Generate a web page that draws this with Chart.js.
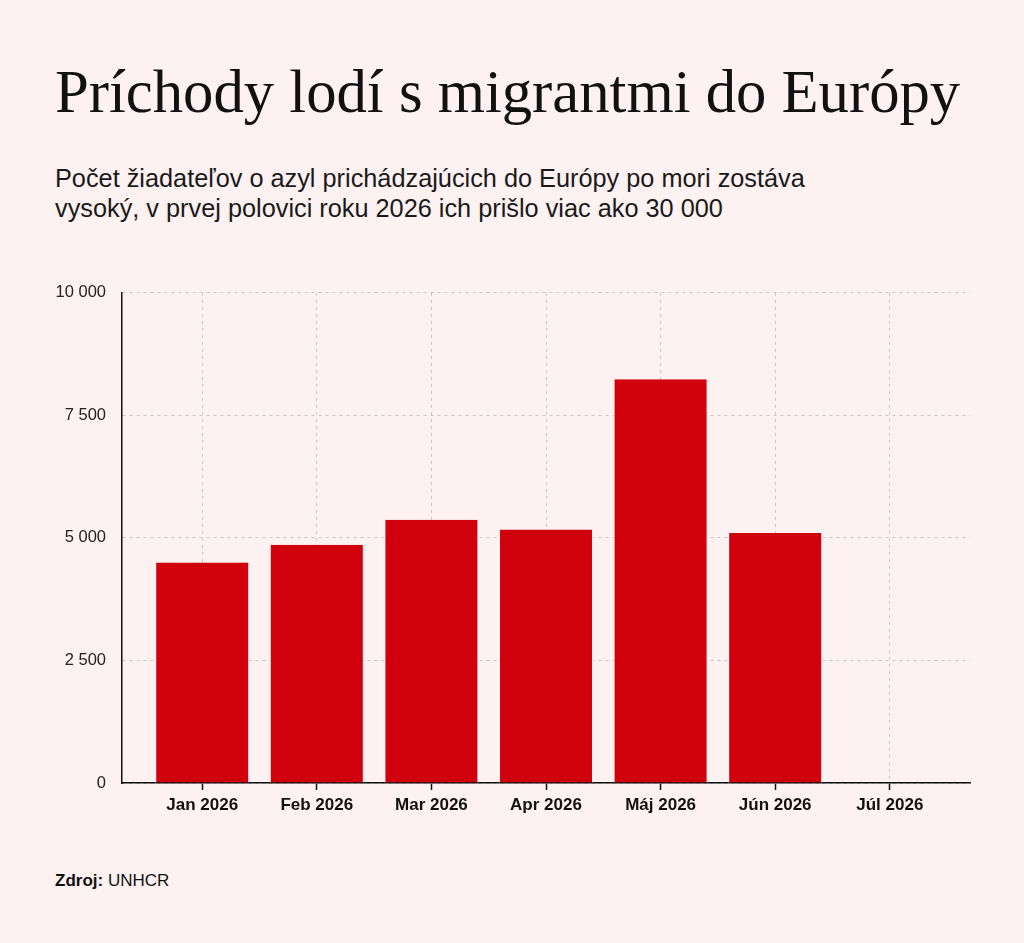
<!DOCTYPE html>
<html lang="sk">
<head>
<meta charset="utf-8">
<script src="https://cdn.jsdelivr.net/npm/chart.js@4.4.1/dist/chart.umd.min.js"></script>
<style>
  html, body { margin: 0; padding: 0; }
  body {
    width: 1024px; height: 943px; position: relative; overflow: hidden;
    background: #fdf1f1; color: #111;
    font-family: "Liberation Sans", Arial, Helvetica, sans-serif;
  }
  #title {
    position: absolute; left: 55px; top: 62px;
    font-family: "Liberation Serif", "Times New Roman", serif;
    font-size: 60.7px; line-height: 60px; white-space: nowrap;
  }
  #subtitle {
    position: absolute; left: 55px; top: 163px; width: 900px;
    font-size: 25.3px; line-height: 30px; color: #1a1a1a;
  }
  #source {
    position: absolute; left: 55px; top: 871px;
    font-size: 17px; line-height: 20px;
  }
  #wrap { position: absolute; left: 0; top: 267px; width: 1024px; height: 556px; }
</style>
</head>
<body>
<div id="title">Príchody lodí s migrantmi do Európy</div>
<div id="subtitle">Počet žiadateľov o azyl prichádzajúcich do Európy po mori zostáva<br>vysoký, v prvej polovici roku 2026 ich prišlo viac ako 30 000</div>
<div id="wrap"><canvas id="chart"></canvas></div>
<div id="source"><b>Zdroj:</b> UNHCR</div>

<script>
// data
const months = ['Jan 2026', 'Feb 2026', 'Mar 2026', 'Apr 2026', 'Máj 2026', 'Jún 2026', 'Júl 2026'];
const arrivals = [4500, 4860, 5370, 5170, 8240, 5100, null];
const yTicks = [0, 2500, 5000, 7500, 10000];

const BG = '#fdf1f1';
const RED = '#d0000d';
const GRID = '#c9c6c6';
const INK = '#111';

const fmt = v => String(v).replace(/\B(?=(\d{3})+(?!\d))/g, ' ');

const points = months.map((m, i) => ({ x: i, y: arrivals[i] }));

new Chart(document.getElementById('chart'), {
    type: 'bar',
    data: {
        datasets: [{
            data: points,
            backgroundColor: RED,
            borderColor: BG,
            borderWidth: { top: 0, left: 1, right: 1, bottom: 0 },
            borderSkipped: 'start',
            barPercentage: 0.82,
            categoryPercentage: 1
        }]
    },
    options: {
        responsive: true,
        maintainAspectRatio: false,
        animation: false,
        layout: { padding: { top: 20, right: 54, bottom: 0, left: 0 } },
        plugins: { legend: { display: false }, tooltip: { enabled: false } },
        scales: {
            x: {
                type: 'linear',
                min: -0.7,
                max: 6.7,
                offset: false,
                afterFit: (s) => { s.height = 40; },
                grid: {
                    offset: false,
                    color: GRID,
                    lineWidth: 1,
                    drawTicks: true,
                    tickLength: 7,
                    tickColor: INK,
                    tickWidth: 1.5
                },
                border: { display: true, color: INK, width: 1.5, dash: [3, 4] },
                ticks: {
                    stepSize: 1,
                    includeBounds: false,
                    autoSkip: false,
                    maxRotation: 0,
                    padding: 5,
                    color: INK,
                    font: { family: '"Liberation Sans", Arial, sans-serif', size: 17, weight: 'bold' },
                    callback: (v) => months[v] ?? ''
                }
            },
            y: {
                min: 0,
                max: 10000,
                afterFit: (s) => { s.width = 122; },
                afterBuildTicks: (s) => { s.ticks = yTicks.map(v => ({ value: v })); },
                grid: { color: GRID, lineWidth: 1, drawTicks: false },
                border: { display: true, color: INK, width: 1.5, dash: [3, 4] },
                ticks: {
                    padding: 16,
                    color: '#222',
                    font: { family: '"Liberation Sans", Arial, sans-serif', size: 16.5 },
                    callback: (v) => fmt(v)
                }
            }
        }
    }
});
</script>
</body>
</html>
